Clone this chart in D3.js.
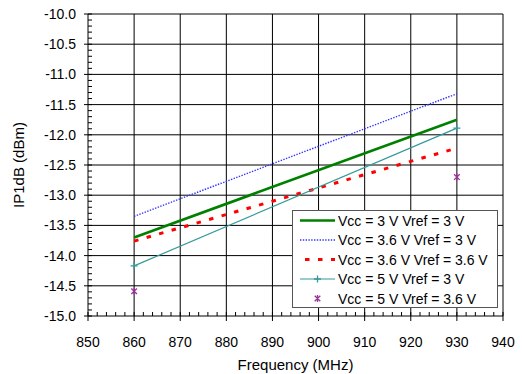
<!DOCTYPE html>
<html>
<head>
<meta charset="utf-8">
<script src="https://cdn.jsdelivr.net/npm/d3@7"></script>
<style>
  body { margin: 0; background: #fff; }
  svg { display: block; font-family: "Liberation Sans", Arial, sans-serif; }
</style>
</head>
<body>
<svg id="chart"></svg>
<script>
// data
const freqs = [860, 930];
const vcc3vref3 = [-13.70, -11.75];
const vcc36vref3 = [-13.35, -11.32];
const vcc36vref36 = [-13.76, -12.22];
const vcc5vref3 = [-14.17, -11.89];
const vcc5vref36 = [-14.59, -12.70];

const xTicks = [850, 860, 870, 880, 890, 900, 910, 920, 930, 940];
const yTicks = [-15, -14.5, -14, -13.5, -13, -12.5, -12, -11.5, -11, -10.5, -10];

const seriesNames = [
  'Vcc = 3 V Vref = 3 V',
  'Vcc = 3.6 V Vref = 3 V',
  'Vcc = 3.6 V Vref = 3.6 V',
  'Vcc = 5 V Vref = 3 V',
  'Vcc = 5 V Vref = 3.6 V'
];

// constants
const width = 522;
const height = 374;
const margin = { left: 88, right: 19, top: 14, bottom: 58 };

const svg = d3.select('#chart')
  .attr('width', width)
  .attr('height', height);

const x = d3.scaleLinear().domain([850, 940]).range([margin.left, width - margin.right]);
const y = d3.scaleLinear().domain([-15, -10]).range([height - margin.bottom, margin.top]);

const series = [
  { name: seriesNames[0], values: vcc3vref3, color: '#008000', width: 2.6, dash: null, line: true },
  { name: seriesNames[1], values: vcc36vref3, color: '#3333ff', width: 1.4, dash: '1.4,1.4', line: true },
  { name: seriesNames[2], values: vcc36vref36, color: '#ff0000', width: 3, dash: '4.5,8.5', line: true },
  { name: seriesNames[3], values: vcc5vref3, color: '#339999', width: 1.2, dash: null, line: true, marker: 'plus' },
  { name: seriesNames[4], values: vcc5vref36, color: '#993399', width: 1, dash: null, line: false, marker: 'star' }
];

// grid
const grid = svg.append('g');
grid.selectAll('.vg')
  .data(xTicks)
  .enter().append('line')
  .attr('x1', d => x(d)).attr('x2', d => x(d))
  .attr('y1', y(-10)).attr('y2', y(-15))
  .attr('stroke', '#000').attr('stroke-width', 1);
grid.selectAll('.hg')
  .data(yTicks)
  .enter().append('line')
  .attr('x1', x(850)).attr('x2', x(940))
  .attr('y1', d => y(d)).attr('y2', d => y(d))
  .attr('stroke', '#000').attr('stroke-width', 1);

// minor ticks (inside) and major ticks (outside)
const xMinor = d3.range(850, 941, 2);
svg.append('g').selectAll('line')
  .data(xMinor)
  .enter().append('line')
  .attr('x1', d => x(d)).attr('x2', d => x(d))
  .attr('y1', y(-15)).attr('y2', y(-15) - 4)
  .attr('stroke', '#000');
svg.append('g').selectAll('line')
  .data(xTicks)
  .enter().append('line')
  .attr('x1', d => x(d)).attr('x2', d => x(d))
  .attr('y1', y(-15)).attr('y2', y(-15) + 5)
  .attr('stroke', '#000');

const yMinor = d3.range(0, 51).map(i => -15 + i * 0.1);
svg.append('g').selectAll('line')
  .data(yMinor)
  .enter().append('line')
  .attr('x1', x(850)).attr('x2', x(850) + 4)
  .attr('y1', d => y(d)).attr('y2', d => y(d))
  .attr('stroke', '#000');
svg.append('g').selectAll('line')
  .data(yTicks)
  .enter().append('line')
  .attr('x1', x(850) - 4).attr('x2', x(850))
  .attr('y1', d => y(d)).attr('y2', d => y(d))
  .attr('stroke', '#000');

// tick labels
svg.append('g').selectAll('text')
  .data(xTicks)
  .enter().append('text')
  .attr('x', d => x(d))
  .attr('y', y(-15) + 31)
  .attr('text-anchor', 'middle')
  .attr('font-size', '14px')
  .attr('fill', '#000')
  .text(d => d);

svg.append('g').selectAll('text')
  .data(yTicks)
  .enter().append('text')
  .attr('x', x(850) - 12)
  .attr('y', d => y(d) + 5)
  .attr('text-anchor', 'end')
  .attr('font-size', '14px')
  .attr('fill', '#000')
  .text(d => d.toFixed(1));

// axis titles
svg.append('text')
  .attr('x', (x(850) + x(940)) / 2)
  .attr('y', 370)
  .attr('text-anchor', 'middle')
  .attr('font-size', '15px')
  .text('Frequency (MHz)');

svg.append('text')
  .attr('transform', `translate(24,${(y(-10) + y(-15)) / 2}) rotate(-90)`)
  .attr('text-anchor', 'middle')
  .attr('font-size', '15px')
  .text('IP1dB (dBm)');

// series
const line = d3.line().x(d => x(d[0])).y(d => y(d[1]));

function drawMarker(g, type, cx, cy, color) {
  const s = 3.5;
  if (type === 'plus') {
    g.append('path')
      .attr('d', `M${cx - s},${cy}H${cx + s}M${cx},${cy - s}V${cy + s}`)
      .attr('stroke', color).attr('stroke-width', 1.3).attr('fill', 'none');
  } else if (type === 'star') {
    const k = 2.8;
    g.append('path')
      .attr('d', `M${cx - k},${cy - k}L${cx + k},${cy + k}M${cx - k},${cy + k}L${cx + k},${cy - k}M${cx},${cy - s}V${cy + s}`)
      .attr('stroke', color).attr('stroke-width', 1.3).attr('fill', 'none');
  }
}

const plot = svg.append('g');
series.forEach(s => {
  const pts = freqs.map((f, i) => [f, s.values[i]]);
  if (s.line) {
    plot.append('path')
      .datum(pts)
      .attr('d', line)
      .attr('fill', 'none')
      .attr('stroke', s.color)
      .attr('stroke-width', s.width)
      .attr('stroke-dasharray', s.dash);
  }
  if (s.marker) {
    pts.forEach(p => drawMarker(plot, s.marker, x(p[0]), y(p[1]), s.color));
  }
});

// legend
const legend = svg.append('g');
legend.append('rect')
  .attr('x', 292.5).attr('y', 210.5)
  .attr('width', 205).attr('height', 97)
  .attr('fill', '#fff')
  .attr('stroke', '#555')
  .attr('stroke-width', 1);

series.forEach((s, i) => {
  const ly = 220.5 + i * 19.5;
  if (s.line) {
    legend.append('line')
      .attr('x1', 300).attr('x2', 335)
      .attr('y1', ly).attr('y2', ly)
      .attr('stroke', s.color)
      .attr('stroke-width', s.width)
      .attr('stroke-dasharray', s.dash ? (s.marker ? null : s.dash) : null)
      .attr('stroke-dashoffset', s.dash === '4.5,8.5' ? -5 : 0);
  }
  if (s.marker) drawMarker(legend, s.marker, 317.5, ly, s.color);
  legend.append('text')
    .attr('x', 338)
    .attr('y', ly + 5)
    .attr('font-size', '14px')
    .attr('fill', '#000')
    .text(s.name);
});
</script>
</body>
</html>
